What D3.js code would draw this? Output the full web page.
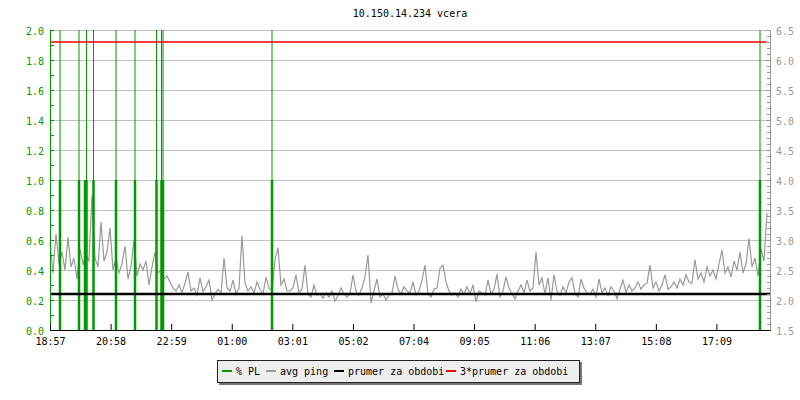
<!DOCTYPE html>
<html>
<head>
<meta charset="utf-8">
<script src="https://cdn.jsdelivr.net/npm/d3@7"></script>
<style>
body { margin: 0; background: #fff; }
text { font-family: "DejaVu Sans Mono", monospace; font-size: 10px; }
</style>
</head>
<body>
<div id="chart"></div>
<script>
// avg ping (ms), one sample every 6 minutes from 18:57
const pingMs = [
  2.95, 2.45, 3.1, 2.6, 2.8, 2.5, 3.05, 2.55, 2.7, 2.35, 2.85, 2.6, 2.75, 2.65, 3.75, 2.7, 2.55, 3.3, 2.65, 2.8,
  3.2, 2.5, 2.7, 2.45, 2.6, 2.9, 2.35, 2.55, 3.0, 2.4, 2.6, 2.5, 2.65, 2.25, 2.55, 2.8, 2.45, 2.5, 2.35, 2.4,
  2.3, 2.2, 2.15, 2.25, 2.12, 2.28, 2.47, 2.15, 2.2, 2.08, 2.37, 2.14, 2.22, 2.33, 2.0, 2.1, 2.18, 2.12, 2.7, 2.2,
  2.15, 2.33, 2.1, 2.2, 3.07, 2.28, 2.15, 2.22, 2.12, 2.3, 2.18, 2.1, 2.38, 2.2, 2.15, 2.67, 2.87, 2.25, 2.35, 2.15,
  2.15, 2.2, 2.42, 2.12, 2.18, 2.58, 2.1, 2.05, 2.25, 2.08, 2.1, 2.03, 2.12, 2.05, 2.15, 1.98, 2.08, 2.2, 2.1, 2.05,
  2.1, 2.42, 2.15, 2.08, 2.2, 2.39, 2.75, 1.95, 2.15, 2.35, 2.05, 2.1, 2.0, 2.08, 2.12, 2.4, 2.18, 2.1, 2.22, 2.15,
  2.12, 2.3, 2.08, 2.15, 2.33, 2.58, 2.1, 2.05, 2.18, 2.2, 2.53, 2.58, 2.3, 2.15, 2.08, 2.12, 2.05, 2.18, 2.1, 2.22,
  2.1, 2.25, 1.97, 2.15, 2.12, 2.08, 2.33, 2.1, 2.18, 2.43, 2.05, 2.15, 2.39, 2.2, 2.1, 2.02, 2.15, 2.25, 2.12, 2.33,
  2.15, 2.2, 2.8, 2.25, 2.37, 2.1, 2.37, 2.0, 2.42, 2.15, 2.08, 2.22, 2.12, 2.3, 2.37, 2.1, 2.05, 2.35, 2.2, 2.12,
  2.1, 2.18, 2.05, 2.35, 2.12, 2.2, 2.08, 2.22, 2.15, 2.02, 2.18, 2.33, 2.12, 2.25, 2.15, 2.2, 2.3, 2.18, 2.25, 2.28,
  2.58, 2.2, 2.3, 2.15, 2.25, 2.42, 2.18, 2.22, 2.3, 2.2, 2.35, 2.25, 2.42, 2.3, 2.28, 2.67, 2.35, 2.45, 2.3, 2.55,
  2.4, 2.5, 2.35, 2.6, 2.83, 2.45, 2.55, 2.38, 2.65, 2.5, 2.8, 2.45, 2.6, 3.03, 2.55, 2.7, 2.4, 2.85, 2.65, 3.45
]
const pingStep = 6

// packet loss events (minutes after 18:57), avg % and peak % (peaks are off the chart)
const plMinutes = [20, 58, 70, 73, 87, 132, 170, 213, 223, 226, 444, 1420]
const plValues  = [1, 1, 1, 1, 1, 1, 1, 1, 1, 1, 1, 1]
const plPeaks   = [4, 4, 1, 4, 4, 4, 4, 4, 4, 4, 4, 4]

const avgPing = 2.1
const tickLabels = ["18:57","20:58","22:59","01:00","03:01","05:02","07:04","09:05","11:06","13:07","15:08","17:09"]
const tickStep = 121.17
const leftTicks = [0, 0.2, 0.4, 0.6, 0.8, 1.0, 1.2, 1.4, 1.6, 1.8, 2.0]
const rightTicks = [1.5, 2.0, 2.5, 3.0, 3.5, 4.0, 4.5, 5.0, 5.5, 6.0, 6.5]

const legendNames = ["% PL", "avg ping", "prumer za obdobi", "3*prumer za obdobi"]
const legendColors = ["#009900", "#999999", "#000000", "#ff0000"]

const green = "#009900"
const svg = d3.select("#chart").append("svg").attr("width", 800).attr("height", 400)
const margin = {top: 30, right: 30, bottom: 70, left: 50}
const W = 800 - margin.left - margin.right
const H = 400 - margin.top - margin.bottom

const x = d3.scaleLinear().domain([0, 1440]).range([margin.left, margin.left + W])
const yPL = d3.scaleLinear().domain([0, 2]).range([margin.top + H, margin.top]).clamp(true)
const yPing = d3.scaleLinear().domain([1.5, 6.5]).range([margin.top + H, margin.top]).clamp(true)

// title
svg.append("text").attr("x", margin.left + W / 2).attr("y", 17).attr("text-anchor", "middle")
  .text("10.150.14.234 vcera")

// grid
svg.append("g").selectAll("line").data(leftTicks.slice(1)).join("line")
  .attr("x1", x(0)).attr("x2", x(1440))
  .attr("y1", d => yPL(d)).attr("y2", d => yPL(d))
  .attr("stroke", "#c0c0c0").attr("stroke-width", 1).attr("shape-rendering", "crispEdges")

// ping line
const line = d3.line().x((d, i) => x(i * pingStep)).y(d => yPing(d))
svg.append("path").datum(pingMs).attr("d", line)
  .attr("fill", "none").attr("stroke", "#999999").attr("stroke-width", 1.2)

// packet loss bars + peaks
svg.append("g").selectAll("rect").data(plMinutes).join("rect")
  .attr("x", d => x(d - 2.5)).attr("width", d => x(d + 2.5) - x(d - 2.5))
  .attr("y", (d, i) => yPL(plValues[i])).attr("height", (d, i) => yPL(0) - yPL(plValues[i]))
  .attr("fill", green)
svg.append("g").selectAll("line").data(plMinutes.filter((d, i) => plPeaks[i] > plValues[i])).join("line")
  .attr("x1", d => x(d)).attr("x2", d => x(d))
  .attr("y1", yPL(0)).attr("y2", d => yPL(plPeaks[plMinutes.indexOf(d)]))
  .attr("stroke", green).attr("stroke-width", 1)

// average and 3*average
svg.append("line").attr("x1", x(0)).attr("x2", x(1440))
  .attr("y1", yPing(avgPing)).attr("y2", yPing(avgPing))
  .attr("stroke", "#000").attr("stroke-width", 2.5)
svg.append("line").attr("x1", x(0)).attr("x2", x(1433))
  .attr("y1", yPing(3 * avgPing)).attr("y2", yPing(3 * avgPing))
  .attr("stroke", "#ff0000").attr("stroke-width", 1.5)

// left axis (PL)
const leftAxis = svg.append("g").attr("transform", `translate(${margin.left},0)`)
  .call(d3.axisLeft(yPL).tickValues(leftTicks).tickFormat(d3.format(".1f")).tickSizeInner(-4).tickSizeOuter(0).tickPadding(6))
leftAxis.append("g").call(d3.axisLeft(yPL).tickValues(d3.range(0.1, 2, 0.2)).tickFormat("").tickSizeInner(-4).tickSizeOuter(0))
leftAxis.selectAll("path,line").attr("stroke", green)
leftAxis.selectAll("text").attr("fill", green).attr("dy", "0.45em")
  .style("font-family", "DejaVu Sans Mono").style("font-size", "10px")

// right axis (ping)
const rightAxis = svg.append("g").attr("transform", `translate(${margin.left + W},0)`)
  .call(d3.axisRight(yPing).tickValues(rightTicks).tickFormat(d3.format(".1f")).tickSizeInner(-4).tickSizeOuter(0).tickPadding(6))
rightAxis.append("g").call(d3.axisRight(yPing).tickValues(d3.range(1.6, 6.5, 0.1)).tickFormat("").tickSizeInner(-3).tickSizeOuter(0))
rightAxis.selectAll("path,line").attr("stroke", "#999999")
rightAxis.selectAll("text").attr("fill", "#999999").attr("dy", "0.45em")
  .style("font-family", "DejaVu Sans Mono").style("font-size", "10px")

// bottom axis (time)
const xAxis = svg.append("g").attr("transform", `translate(0,${margin.top + H})`)
  .call(d3.axisBottom(x).tickValues(tickLabels.map((d, i) => i * tickStep))
    .tickFormat((d, i) => tickLabels[i]).tickSizeInner(-6).tickSizeOuter(0).tickPadding(8))
xAxis.selectAll("path,line").attr("stroke", "#000")
xAxis.selectAll("text").attr("fill", "#000")
  .style("font-family", "DejaVu Sans Mono").style("font-size", "10px")

// legend
const legend = svg.append("g")
legend.append("rect").attr("x", 219).attr("y", 362).attr("width", 363).attr("height", 23).attr("fill", "#777")
legend.append("rect").attr("x", 217.5).attr("y", 360.5).attr("width", 362).attr("height", 22)
  .attr("fill", "#eeeeee").attr("stroke", "#222").attr("stroke-width", 1)
const legendX = [222, 266, 334, 446]
legendNames.forEach((name, i) => {
  legend.append("line").attr("x1", legendX[i]).attr("x2", legendX[i] + 10)
    .attr("y1", 371).attr("y2", 371).attr("stroke", legendColors[i]).attr("stroke-width", 2)
  legend.append("text").attr("x", legendX[i] + 14).attr("y", 374.5).text(name)
})
</script>
</body>
</html>
